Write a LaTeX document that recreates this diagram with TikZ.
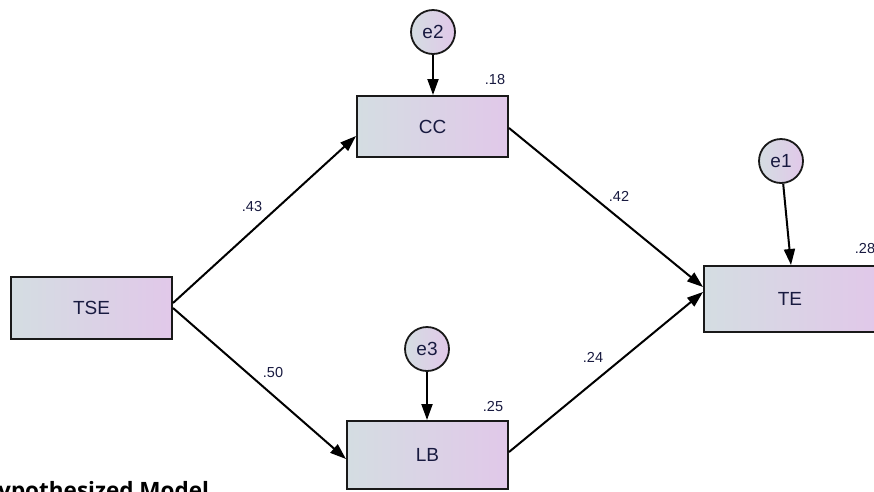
\documentclass[tikz,border=0pt]{standalone}
\usepackage{fontspec}
\setmainfont{Liberation Sans}
\newfontfamily\capfont{Open Sans}
\usetikzlibrary{arrows.meta}
\definecolor{boxL}{RGB}{212,221,226}
\definecolor{boxR}{RGB}{225,200,233}
\definecolor{txt}{RGB}{24,26,64}
\definecolor{edgec}{RGB}{25,25,25}
\begin{document}
\begin{tikzpicture}[x=1pt,y=-1pt,
  var/.style={rectangle, draw=edgec, line width=2pt, left color=boxL, right color=boxR,
    inner sep=0pt, text=txt, font=\fontsize{19}{22}\selectfont},
  err/.style={circle, draw=edgec, line width=1.8pt, minimum size=44pt, inner sep=0pt,
    left color=boxL, right color=boxR, text=txt, font=\fontsize{19}{22}\selectfont},
  num/.style={inner sep=0pt, text=txt, font=\fontsize{14.5}{17}\selectfont},
  pth/.style={draw=black, line width=2pt, -{Triangle[length=16pt,width=11pt]}}
]
\useasboundingbox (0,0) rectangle (874,491);
\fill[white] (0,0) rectangle (874,491);

% observed variables
\node[var, minimum width=161pt, minimum height=62pt] (TSE) at (91.5,308) {TSE};
\node[var, minimum width=151pt, minimum height=61pt] (CC) at (432.5,126.5) {CC};
\node[var, minimum width=161pt, minimum height=68pt] (LB) at (427.5,455) {LB};
\node[var, minimum width=172pt, minimum height=66pt] (TE) at (790,299) {TE};

% error terms
\node[err] (e2) at (433,32) {e2};
\node[err] (e3) at (427,349) {e3};
\node[err] (e1) at (781,161) {e1};

% paths
\draw[pth] ([yshift=5pt]TSE.east) -- ([yshift=-9.5pt]CC.west);
\draw[pth] (TSE.east) -- ([yshift=-4pt]LB.west);
\draw[pth] ([yshift=-1.5pt]CC.east) -- ([yshift=12pt]TE.west);
\draw[pth] ([yshift=3pt]LB.east) -- ([yshift=7pt]TE.west);
\draw[pth] (e2) -- (e2 |- CC.north);
\draw[pth] (e3) -- (e3 |- LB.north);
\draw[pth] (e1) -- ([xshift=1pt]TE.north);

% coefficients
\node[num] (c43) at (252,207) {.43};
\node[num] (c50) at (273,372) {.50};
\node[num] (c42) at (619,196) {.42};
\node[num] (c24) at (593,357) {.24};
\node[num] (r18) at (495,80) {.18};
\node[num] (r25) at (493,406) {.25};
\node[num] (r28) at (865,248) {.28};

% caption
\node[anchor=base west, inner sep=0pt, font=\capfont\bfseries\fontsize{22.5}{26}\selectfont] (cap) at (-2,498) {ypothesized Model};
\end{tikzpicture}
\end{document}
